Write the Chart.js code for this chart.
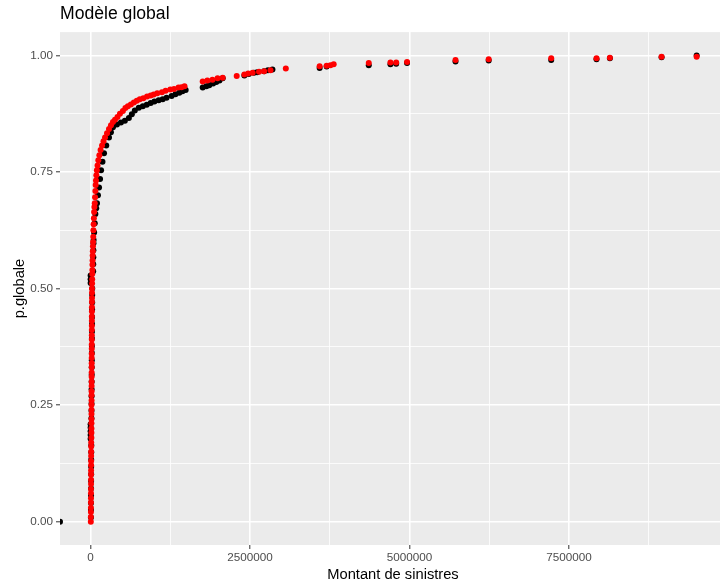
<!DOCTYPE html>
<html>
<head>
<meta charset="utf-8">
<script src="https://cdn.jsdelivr.net/npm/chart.js@4.4.1/dist/chart.umd.min.js"></script>
<style>
  html, body { margin: 0; padding: 0; background: #ffffff; overflow: hidden; }
  #wrap { width: 730px; height: 584px; }
</style>
</head>
<body>
<div id="wrap"><canvas id="c" width="730" height="584"></canvas></div>
<script>
// Montants de sinistres et probabilités cumulées : modèle ajusté (rouge)
const modeleMontant = [
  3000, 4100, 4600, 4900, 5300, 5600, 5900, 6100, 6500, 6800, 7000, 7400, 7700, 8000, 8200, 8600, 8900, 9300,
  12100, 12400, 12800, 13100, 13300, 13700, 14000, 14200, 14600, 14900, 15100, 15400, 15800, 16000, 16300, 16700,
  16900, 17200, 17600, 17800, 18100, 18500, 18700, 19000, 19400, 19600, 19900, 20300, 20500, 20800, 21200, 21400, 21700,
  23000, 24400, 25700, 27300, 28600, 30200, 32100, 34300, 36200, 38700, 41000, 43600,
  47000, 51000, 55000, 59000, 65000, 70000, 75000, 79000, 84000, 90000, 98000, 109000, 121000, 137000, 156000,
  179000, 202000, 226000, 257000, 288000, 319000, 350000, 382000, 421000, 460000, 506000, 545000, 584000, 631000,
  678000, 724000, 771000, 826000, 885000, 942000, 989000, 1044000, 1118000, 1176000, 1249000, 1308000, 1378000,
  1425000, 1472000,
  1757000, 1830000, 1910000, 1990000, 2070000, 2290000, 2410000, 2470000, 2540000, 2640000, 2720000, 2820000,
  3060000, 3590000, 3700000, 3760000, 3810000, 4360000, 4700000, 4790000, 4960000, 5720000, 6240000, 7220000,
  7930000, 8140000, 8950000, 9500000
];
const modeleProb = [
  0.000, 0.010, 0.021, 0.030, 0.041, 0.050, 0.061, 0.070, 0.081, 0.090, 0.101, 0.110, 0.121, 0.130, 0.141, 0.150, 0.161, 0.170,
  0.180, 0.191, 0.200, 0.211, 0.220, 0.231, 0.240, 0.251, 0.260, 0.271, 0.280, 0.291, 0.300, 0.311, 0.320, 0.331,
  0.340, 0.351, 0.360, 0.371, 0.380, 0.391, 0.400, 0.411, 0.420, 0.431, 0.440, 0.451, 0.460, 0.471, 0.480, 0.491, 0.500,
  0.511, 0.520, 0.531, 0.540, 0.551, 0.560, 0.571, 0.580, 0.591, 0.600, 0.611, 0.625,
  0.638, 0.651, 0.664, 0.675, 0.683, 0.696, 0.709, 0.722, 0.732, 0.743, 0.754, 0.764, 0.775, 0.786, 0.797,
  0.807, 0.816, 0.824, 0.833, 0.842, 0.850, 0.857, 0.862, 0.868, 0.875, 0.881, 0.887, 0.891, 0.895,
  0.899, 0.903, 0.906, 0.908, 0.912, 0.914, 0.916, 0.919, 0.921, 0.924, 0.927, 0.928, 0.931,
  0.932, 0.934,
  0.944, 0.946, 0.948, 0.951, 0.952, 0.956, 0.959, 0.961, 0.963, 0.965, 0.966, 0.968,
  0.972, 0.977, 0.978, 0.979, 0.981, 0.984, 0.985, 0.985, 0.986, 0.990, 0.992, 0.994,
  0.994, 0.995, 0.997, 0.997
];

// Fonction de répartition empirique (noir)
const empMontant = [
  -480000,
  5000, 5500, 6000, 6600, 7100, 7700, 8200, 8800, 9300, 9900, 10400,
  0, 0, 0, 0, 0,
  12600, 13400, 14100, 14900, 15600, 16300, 17100, 17800, 18500, 19300, 20000, 20700, 21500, 22200, 22900,
  23700, 24400, 25100, 25800,
  0, 0, 0,
  40000, 41000, 42500, 43500, 45000,
  47000, 55000, 65000, 75000, 88000, 100000, 115000, 132000, 148000, 164000, 186000, 210000, 245000, 288000,
  318000, 350000, 413000, 475000, 537000, 600000, 646000, 693000, 755000, 818000, 880000, 942000, 1000000,
  1067000, 1130000, 1190000, 1270000, 1330000, 1390000, 1440000, 1490000,
  1757000, 1815000, 1860000, 1920000, 1970000, 2020000, 2070000, 2410000, 2480000, 2560000, 2610000, 2720000,
  2780000, 2850000, 3590000, 3700000, 4360000, 4700000, 4790000, 4960000, 5720000, 6240000, 7220000, 7930000,
  8140000, 8950000, 9500000
];
const empProb = [
  0.000,
  0.009, 0.025, 0.040, 0.056, 0.071, 0.087, 0.102, 0.118, 0.133, 0.149, 0.164,
  0.178, 0.186, 0.194, 0.202, 0.209,
  0.222, 0.238, 0.253, 0.269, 0.284, 0.300, 0.315, 0.331, 0.346, 0.362, 0.377, 0.393, 0.408, 0.424, 0.439,
  0.455, 0.470, 0.486, 0.500,
  0.512, 0.520, 0.528,
  0.537, 0.552, 0.567, 0.582, 0.597,
  0.604, 0.620, 0.640, 0.660, 0.672, 0.683, 0.700, 0.717, 0.735, 0.754, 0.772, 0.790, 0.807, 0.824,
  0.835, 0.846, 0.852, 0.856, 0.860, 0.866, 0.874, 0.882, 0.888, 0.891, 0.894, 0.898, 0.901,
  0.904, 0.906, 0.909, 0.913, 0.917, 0.920, 0.923, 0.926,
  0.931, 0.934, 0.936, 0.940, 0.943, 0.946, 0.951, 0.957, 0.960, 0.963, 0.964, 0.966,
  0.968, 0.970, 0.973, 0.976, 0.979, 0.981, 0.982, 0.984, 0.987, 0.989, 0.990, 0.992,
  0.994, 0.996, 1.000
];

// Graduations
const xMajor = [0, 2500000, 5000000, 7500000];
const xMajorLabels = ['0', '2500000', '5000000', '7500000'];
const xMinor = [1250000, 3750000, 6250000, 8750000];
const yMajor = [0, 0.25, 0.5, 0.75, 1];
const yMajorLabels = ['0.00', '0.25', '0.50', '0.75', '1.00'];
const yMinor = [0.125, 0.375, 0.625, 0.875];

const FONT = 'Liberation Sans, Arial, sans-serif';
const POINT_RADIUS = 3;

const toPoints = (xs, ys) => xs.map((x, i) => ({ x: x, y: ys[i] }));
const majorIndex = (list, v) => list.findIndex(m => Math.abs(m - v) < 1e-9 * Math.max(1, Math.abs(m)));
const allTicks = (major, minor) => major.concat(minor).sort((a, b) => a - b);

// Fond gris du panneau
const panelBackground = {
  id: 'panelBackground',
  beforeDraw(chart) {
    const { ctx, chartArea: a } = chart;
    ctx.save();
    ctx.fillStyle = '#EBEBEB';
    ctx.fillRect(a.left, a.top, a.right - a.left, a.bottom - a.top);
    ctx.restore();
  }
};

function axisOptions(major, labels, minor, min, max, isX) {
  return {
    type: 'linear',
    min: min,
    max: max,
    afterBuildTicks: s => { s.ticks = allTicks(major, minor).map(v => ({ value: v })); },
    afterFit: s => { if (isX) { s.height = 39; } else { s.width = 60; } },
    border: { display: false },
    grid: {
      color: '#FFFFFF',
      lineWidth: c => (majorIndex(major, c.tick.value) >= 0 ? 1.6 : 0.8),
      drawTicks: true,
      tickLength: 4,
      tickWidth: 1,
      tickColor: c => (majorIndex(major, c.tick.value) >= 0 ? '#333333' : 'rgba(0,0,0,0)')
    },
    ticks: {
      autoSkip: false,
      maxRotation: 0,
      padding: isX ? 2 : 3,
      color: '#4D4D4D',
      font: { family: FONT, size: 11.7 },
      callback: v => { const i = majorIndex(major, v); return i >= 0 ? labels[i] : ''; }
    },
    title: {
      display: true,
      text: isX ? 'Montant de sinistres' : 'p.globale',
      color: '#000000',
      font: { family: FONT, size: 14.7 },
      padding: isX ? { top: 0, bottom: 0 } : { top: 11, bottom: 0 }
    }
  };
}

new Chart(document.getElementById('c'), {
  type: 'scatter',
  data: {
    datasets: [
      {
        label: 'modèle',
        data: toPoints(modeleMontant, modeleProb),
        backgroundColor: '#FF0000',
        borderWidth: 0,
        pointRadius: POINT_RADIUS,
        order: 1,
        clip: 0
      },
      {
        label: 'empirique',
        data: toPoints(empMontant, empProb),
        backgroundColor: '#000000',
        borderWidth: 0,
        pointRadius: POINT_RADIUS,
        order: 2,
        clip: 0
      }
    ]
  },
  options: {
    responsive: false,
    animation: false,
    events: [],
    layout: { padding: 0 },
    plugins: {
      legend: { display: false },
      tooltip: { enabled: false },
      title: {
        display: true,
        text: 'Modèle global',
        align: 'start',
        fullSize: false,
        color: '#000000',
        font: { family: FONT, size: 17.6, weight: 'normal' },
        padding: { top: 4, bottom: 7 }
      }
    },
    scales: {
      x: axisOptions(xMajor, xMajorLabels, xMinor, -480000, 9960000, true),
      y: axisOptions(yMajor, yMajorLabels, yMinor, -0.05, 1.05, false)
    }
  },
  plugins: [panelBackground]
});
</script>
</body>
</html>
